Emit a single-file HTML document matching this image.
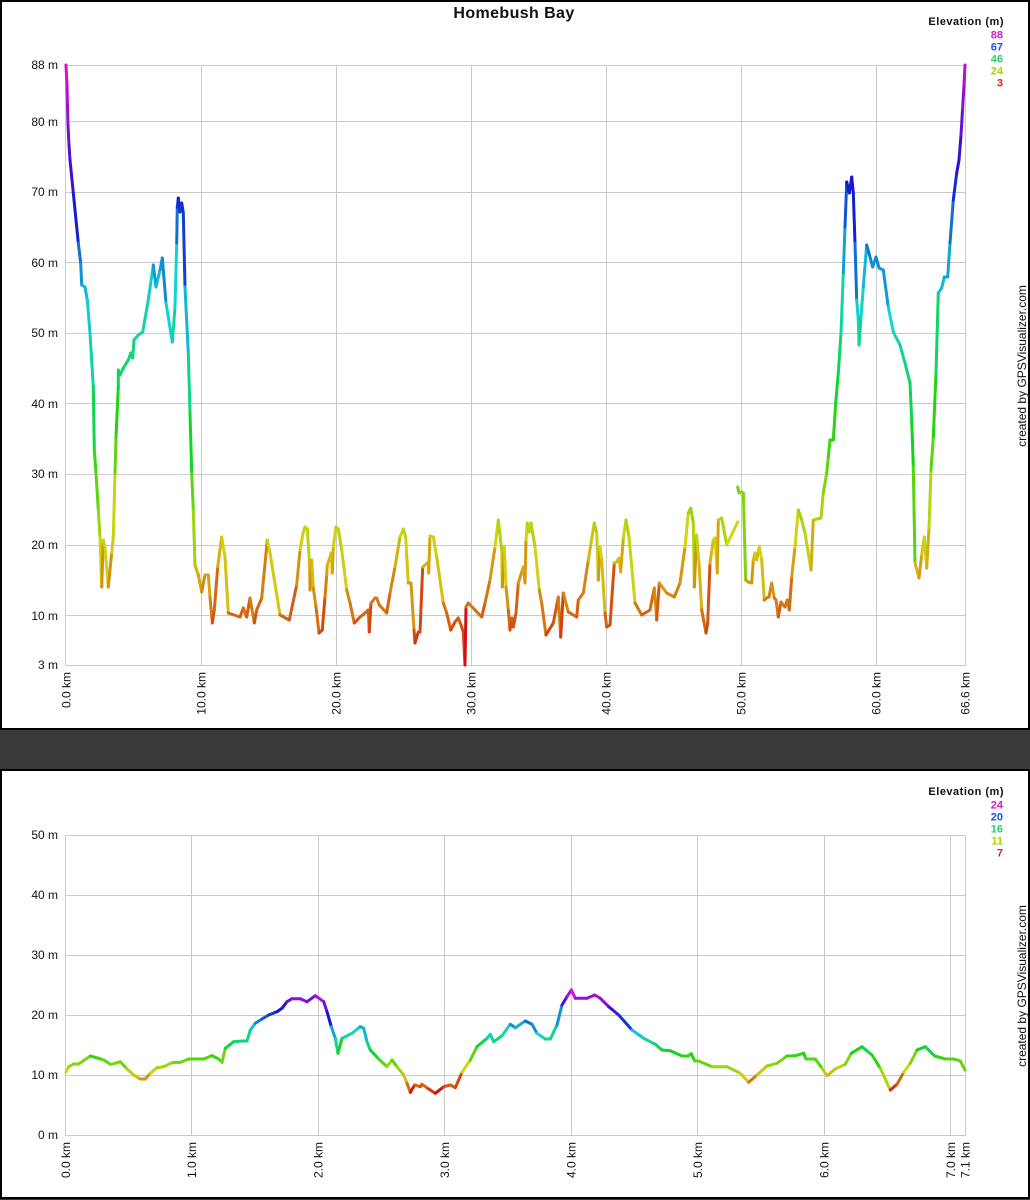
<!DOCTYPE html>
<html>
<head>
<meta charset="utf-8">
<style>
html,body{margin:0;padding:0;background:#3a3a3a;}
svg{display:block;}
text{font-family:"Liberation Sans",Arial,sans-serif;}
.yl{font-size:12px;fill:#111;text-anchor:end;}
.xl{font-size:12px;fill:#111;text-anchor:end;}
.lg{font-size:11px;font-weight:bold;text-anchor:end;}
.grid line{stroke:#cacaca;stroke-width:1;shape-rendering:crispEdges;}
.prof{fill:none;stroke-width:3;stroke-linejoin:round;stroke-linecap:round;}
</style>
</head>
<body>
<svg id="chart" width="1030" height="1200" viewBox="0 0 1030 1200" xmlns="http://www.w3.org/2000/svg">
<defs>
<linearGradient id="gt" gradientUnits="userSpaceOnUse" x1="0" y1="65" x2="0" y2="665">
<stop offset="0" stop-color="hsl(300,85%,45%)"/>
<stop offset="0.1" stop-color="hsl(270,85%,45%)"/>
<stop offset="0.2" stop-color="hsl(240,85%,45%)"/>
<stop offset="0.3" stop-color="hsl(210,85%,45%)"/>
<stop offset="0.4" stop-color="hsl(180,85%,45%)"/>
<stop offset="0.5" stop-color="hsl(150,85%,45%)"/>
<stop offset="0.6" stop-color="hsl(120,85%,45%)"/>
<stop offset="0.7" stop-color="hsl(90,85%,45%)"/>
<stop offset="0.8" stop-color="hsl(60,85%,45%)"/>
<stop offset="0.9" stop-color="hsl(30,85%,45%)"/>
<stop offset="1" stop-color="hsl(0,85%,45%)"/>
</linearGradient>
<linearGradient id="gb" gradientUnits="userSpaceOnUse" x1="0" y1="991" x2="0" y2="1093">
<stop offset="0" stop-color="hsl(300,85%,45%)"/>
<stop offset="0.1" stop-color="hsl(270,85%,45%)"/>
<stop offset="0.2" stop-color="hsl(240,85%,45%)"/>
<stop offset="0.3" stop-color="hsl(210,85%,45%)"/>
<stop offset="0.4" stop-color="hsl(180,85%,45%)"/>
<stop offset="0.5" stop-color="hsl(150,85%,45%)"/>
<stop offset="0.6" stop-color="hsl(120,85%,45%)"/>
<stop offset="0.7" stop-color="hsl(90,85%,45%)"/>
<stop offset="0.8" stop-color="hsl(60,85%,45%)"/>
<stop offset="0.9" stop-color="hsl(30,85%,45%)"/>
<stop offset="1" stop-color="hsl(0,85%,45%)"/>
</linearGradient>
</defs>

<rect x="0" y="0" width="1030" height="1200" fill="#3a3a3a"/>
<!-- top panel -->
<rect x="1" y="1" width="1028" height="728" fill="#fff" stroke="#000" stroke-width="2"/>
<!-- bottom panel -->
<rect x="1" y="770" width="1028" height="428" fill="#fff" stroke="#000" stroke-width="2"/>

<!-- ===== TOP CHART ===== -->
<text x="514" y="18" text-anchor="middle" style="font-size:16px;font-weight:bold;letter-spacing:0.4px" fill="#111">Homebush Bay</text>

<g class="grid">
<line x1="66" y1="121.5" x2="965" y2="121.5"/>
<line x1="66" y1="192.5" x2="965" y2="192.5"/>
<line x1="66" y1="262.5" x2="965" y2="262.5"/>
<line x1="66" y1="333.5" x2="965" y2="333.5"/>
<line x1="66" y1="403.5" x2="965" y2="403.5"/>
<line x1="66" y1="474.5" x2="965" y2="474.5"/>
<line x1="66" y1="545.5" x2="965" y2="545.5"/>
<line x1="66" y1="615.5" x2="965" y2="615.5"/>
<line x1="201.5" y1="65" x2="201.5" y2="665"/>
<line x1="336.5" y1="65" x2="336.5" y2="665"/>
<line x1="471.5" y1="65" x2="471.5" y2="665"/>
<line x1="606.5" y1="65" x2="606.5" y2="665"/>
<line x1="741.5" y1="65" x2="741.5" y2="665"/>
<line x1="876.5" y1="65" x2="876.5" y2="665"/>
<line x1="65.5" y1="65.5" x2="965.5" y2="65.5"/>
<line x1="65.5" y1="665.5" x2="965.5" y2="665.5"/>
<line x1="65.5" y1="65.5" x2="65.5" y2="665.5"/>
<line x1="965.5" y1="65.5" x2="965.5" y2="665.5"/>
</g>

<g>
<text class="yl" x="58" y="69">88 m</text>
<text class="yl" x="58" y="126">80 m</text>
<text class="yl" x="58" y="196">70 m</text>
<text class="yl" x="58" y="267">60 m</text>
<text class="yl" x="58" y="337">50 m</text>
<text class="yl" x="58" y="408">40 m</text>
<text class="yl" x="58" y="478">30 m</text>
<text class="yl" x="58" y="549">20 m</text>
<text class="yl" x="58" y="620">10 m</text>
<text class="yl" x="58" y="669">3 m</text>
</g>

<g>
<text class="xl" transform="translate(70.3,672) rotate(-90)">0.0 km</text>
<text class="xl" transform="translate(205.5,672) rotate(-90)">10.0 km</text>
<text class="xl" transform="translate(340.5,672) rotate(-90)">20.0 km</text>
<text class="xl" transform="translate(475.5,672) rotate(-90)">30.0 km</text>
<text class="xl" transform="translate(610.5,672) rotate(-90)">40.0 km</text>
<text class="xl" transform="translate(745.5,672) rotate(-90)">50.0 km</text>
<text class="xl" transform="translate(880.5,672) rotate(-90)">60.0 km</text>
<text class="xl" transform="translate(969.5,672) rotate(-90)">66.6 km</text>
</g>

<g>
<text class="lg" x="1004" y="25" fill="#111" style="letter-spacing:0.5px">Elevation (m)</text>
<text class="lg" x="1003" y="38.5" fill="#cc1ecc">88</text>
<text class="lg" x="1003" y="50.5" fill="#1f50d8">67</text>
<text class="lg" x="1003" y="62.5" fill="#28d070">46</text>
<text class="lg" x="1003" y="74.5" fill="#b0d000">24</text>
<text class="lg" x="1003" y="86.5" fill="#e02020">3</text>
</g>

<text transform="translate(1026,366) rotate(-90)" text-anchor="middle" style="font-size:12px" fill="#111">created by GPSVisualizer.com</text>

<g id="topg">
<polyline class="prof tp" stroke="url(#gt)" points="66,65 67,85 67.5,105 68,125 69,145 70,160 73.3,193 78.3,243 80.7,263 81.7,285 85,287 87.3,300 90,333 93.3,387 94.3,450 96,473 98.3,510 100,537 101.7,587 103.3,540 105,547 108.3,587 111.7,553 113.3,537 115,473 116,437 118.3,387 118.3,370 120,375 123.3,368 128.3,360 130.7,353 132.7,358 134,340 138.3,335 142.7,332 148.3,300 153.3,265 156,287 160,270 162.3,258 166,303 172.3,342 175,307 176.7,243 177.3,207 178.3,198 180,212 181.7,203 183.3,213 185,287 188.3,353 190,413 191.7,473 193.3,510 195,565 198.3,575 201.7,592 205,575 208.3,575 210,597 212.3,623 214.3,610 217.7,567 221.7,537 225,557 228.3,613 240,617 243.3,608 246.7,617 250,598 254.3,623 256.7,610 261.7,598 267.3,540 270,553 280,615 289.3,620 296.7,585 300,550 303.3,532 305,527 307.3,529 309.3,560 310,590 311.7,560 313.3,588 316,607 319,633 322.3,630 325,597 326.7,575 327.3,565 330,557 331,553 332.3,573 333.3,547 336,527 338.3,529 341.7,550 346.7,590 350,603 354.3,623 360,617 365,613 368.3,610 369.3,632 371,603 375,598 376.7,598 379.3,605 386.7,613 390,593 395,567 400,537 403.3,529 405.7,537 406.7,555 408.3,583 411,583 414,630 415,643 418.3,632 420,632 422.7,567 425,565 428.3,562 428.7,573 430,536 433.3,537 436.7,557 443.3,603 446.7,613 450.7,630 455,622 458.3,618 461.7,627 463.3,632 465,665 466,607 468.3,603 475,610 481.7,617 485,603 490,580 495,547 498.3,520 501.7,550 502.3,587 504.3,547 506,587 508.3,610 510,630 511.7,618 513.3,627 516,613 518.3,583 523.3,567 525,583 526,540 527.3,523 529.3,532 531,523 535,547 539.3,590 541.7,603 546,635 553.3,623 558.3,597 560.7,637 563.3,593 568.3,612 576.7,617 578.3,600 583.3,593 588.3,560 594.3,523 596.7,533 598.3,580 600,547 601.7,560 605,613 606.7,627 610,625 614.3,563 616.7,562 619,558 620.7,572 623.3,538 626,520 629,537 635,603 641.7,615 650,610 654.3,588 656.7,620 659.3,583 666.7,593 674.3,597 680,583 685,547 688.3,513 690.7,508 693.3,523 694.3,587 696.7,535 699,563 701.7,610 706,633 707.7,623 710,563 713.3,540 715,538 717.3,573 718.3,520 721.7,518 726.7,545 737.7,522"/>
<polyline class="prof tp" stroke="url(#gt)" points="737.7,487 739,493 741.7,492 743.3,493 745.7,580 748.3,582 751.7,583 753.3,560 755,553 756.7,560 759.3,547 761.7,560 764.3,600 766.7,598 769,597 771.7,583 774.3,598 776,600 778.3,617 781,602 785,607 787.3,600 789.3,610 791.7,577 795,547 798.3,510 801.7,520 805,533 811,570 813.3,520 821,518 823.3,493 826.7,473 828.3,457 830,440 833.3,440 835.7,403 838.3,373 841,333 843.3,273 845,227 846.7,182 849.3,193 851.7,177 853.3,193 855,243 856.7,300 858.3,320 859,345 861,317 863.3,287 866.7,245 870,257 872.7,267 876,257 879,268 883.3,270 888.3,307 893.3,332 900,345 905,363 910,383 911.7,420 913.3,467 915,563 919,578 921.7,555 924.3,537 926.7,568 929,528 931,470 933.3,437 936,373 938.3,293 941.7,288 944.3,277 947.7,277 950,243 953.3,200 956.7,173 959,160 961,135 962.5,110 964,85 965,65"/>
</g>

<!-- ===== BOTTOM CHART ===== -->
<g class="grid">
<line x1="66" y1="895.5" x2="965" y2="895.5"/>
<line x1="66" y1="955.5" x2="965" y2="955.5"/>
<line x1="66" y1="1015.5" x2="965" y2="1015.5"/>
<line x1="66" y1="1075.5" x2="965" y2="1075.5"/>
<line x1="191.5" y1="835" x2="191.5" y2="1135"/>
<line x1="318.5" y1="835" x2="318.5" y2="1135"/>
<line x1="444.5" y1="835" x2="444.5" y2="1135"/>
<line x1="571.5" y1="835" x2="571.5" y2="1135"/>
<line x1="697.5" y1="835" x2="697.5" y2="1135"/>
<line x1="824.5" y1="835" x2="824.5" y2="1135"/>
<line x1="950.5" y1="835" x2="950.5" y2="1135"/>
<line x1="65.5" y1="835.5" x2="965.5" y2="835.5"/>
<line x1="65.5" y1="1135.5" x2="965.5" y2="1135.5"/>
<line x1="65.5" y1="835.5" x2="65.5" y2="1135.5"/>
<line x1="965.5" y1="835.5" x2="965.5" y2="1135.5"/>
</g>

<g>
<text class="yl" x="58" y="839">50 m</text>
<text class="yl" x="58" y="899">40 m</text>
<text class="yl" x="58" y="959">30 m</text>
<text class="yl" x="58" y="1019">20 m</text>
<text class="yl" x="58" y="1079">10 m</text>
<text class="yl" x="58" y="1139">0 m</text>
</g>

<g>
<text class="xl" transform="translate(70,1142) rotate(-90)">0.0 km</text>
<text class="xl" transform="translate(196,1142) rotate(-90)">1.0 km</text>
<text class="xl" transform="translate(322.5,1142) rotate(-90)">2.0 km</text>
<text class="xl" transform="translate(449,1142) rotate(-90)">3.0 km</text>
<text class="xl" transform="translate(575.5,1142) rotate(-90)">4.0 km</text>
<text class="xl" transform="translate(702,1142) rotate(-90)">5.0 km</text>
<text class="xl" transform="translate(828.5,1142) rotate(-90)">6.0 km</text>
<text class="xl" transform="translate(955,1142) rotate(-90)">7.0 km</text>
<text class="xl" transform="translate(969.5,1142) rotate(-90)">7.1 km</text>
</g>

<g>
<text class="lg" x="1004" y="795" fill="#111" style="letter-spacing:0.5px">Elevation (m)</text>
<text class="lg" x="1003" y="808.5" fill="#cc1ecc">24</text>
<text class="lg" x="1003" y="820.5" fill="#1f50d8">20</text>
<text class="lg" x="1003" y="832.5" fill="#28d070">16</text>
<text class="lg" x="1003" y="844.5" fill="#b0d000">11</text>
<text class="lg" x="1003" y="856.5" fill="#e02020">7</text>
</g>

<text transform="translate(1026,986) rotate(-90)" text-anchor="middle" style="font-size:12px" fill="#111">created by GPSVisualizer.com</text>

<g id="botg">
<polyline class="prof bp" stroke="url(#gb)" points="66,1072 68.7,1066.7 73.7,1064 78.7,1064 90.3,1056 98.7,1058.3 103.7,1060 110.3,1064.3 115.3,1063.3 120.3,1061.7 127,1069 133.7,1075 140.3,1079 145.3,1079 150.3,1073.3 157,1067.7 163.7,1066.7 172,1062.7 180.3,1062.3 188.7,1059 203.7,1059 212,1055.7 218.7,1059 222,1062.3 225.3,1048.3 233.7,1041.7 242,1041 247,1041 250.3,1030 255.3,1023.3 262,1019 268.7,1015 277,1011.7 282,1008.3 287,1001.7 292,998.7 300.3,998.7 307,1001.7 315.3,995.7 323.7,1001.7 327,1011.7 331.3,1026.7 335.3,1038.3 338,1053.3 342,1038.3 352,1033.3 360.3,1026.7 363.7,1028.3 367,1041.7 370.3,1050 378.7,1059 387,1066.7 392,1060 397,1066.7 403.7,1075 407,1083.3 410.3,1092.3 414.7,1085 420.3,1086.7 422,1084.3 428.7,1089 435.3,1093.3 443.7,1086.7 450.3,1085 455.3,1087.7 462,1072.3 470.3,1060 477,1046.7 487,1038.3 490.3,1034.3 493.7,1041.7 502,1035.7 510.3,1024.3 515.3,1027.7 525.3,1021 532,1024.3 537,1033.3 545.3,1039 550.3,1039 557,1025 562,1005 567,996.7 571.3,990 575.3,998.3 587,998.3 594.7,995 600.3,998.3 608.7,1006.7 618.7,1015 632,1030 643.7,1038.3 655.3,1044.3 662,1050 670.3,1050.7 682,1056 688,1056 691.3,1053.7 694.7,1061 698.7,1061 712,1066.7 727,1066.7 740.3,1073.3 748.7,1082.3 757,1075 767,1066 777,1063.3 787,1056 795.3,1055.7 803.7,1053.3 806,1059 815.3,1059 822,1068.3 827,1075.7 835.3,1069 845.3,1064.3 851.3,1053.3 862,1046.7 872,1055 880.3,1068.3 890.3,1090 897,1084.3 903.7,1072.3 910.3,1063.3 917,1050 925.3,1046.7 934.7,1056 945.3,1059 953.7,1059 960.3,1061 965,1070"/>
</g>
</svg>
<script>
(function(){
  try{
    var NS='http://www.w3.org/2000/svg';
    function hueTop(y){var h=(665-y)/2;return Math.max(0,Math.min(300,h));}
    function hueBot(y){var h=(1093-y)*300/102;return Math.max(0,Math.min(300,h));}
    function seg(cls,hf){
      var pls=document.querySelectorAll('polyline.'+cls);
      for(var k=0;k<pls.length;k++){
        var pl=pls[k];
        var raw=pl.getAttribute('points').trim().split(/\s+/);
        var pts=raw.map(function(s){var a=s.split(',');return [parseFloat(a[0]),parseFloat(a[1])];});
        var g=pl.parentNode;
        for(var i=0;i<pts.length-1;i++){
          var l=document.createElementNS(NS,'line');
          l.setAttribute('x1',pts[i][0]);l.setAttribute('y1',pts[i][1]);
          l.setAttribute('x2',pts[i+1][0]);l.setAttribute('y2',pts[i+1][1]);
          l.setAttribute('stroke','hsl('+hf(pts[i][1]).toFixed(1)+',85%,45%)');
          l.setAttribute('stroke-width','3');
          l.setAttribute('stroke-linecap','round');
          g.appendChild(l);
        }
        pl.setAttribute('stroke','none');
      }
    }
    seg('tp',hueTop);
    seg('bp',hueBot);
  }catch(e){}
})();
</script>
</body>
</html>
